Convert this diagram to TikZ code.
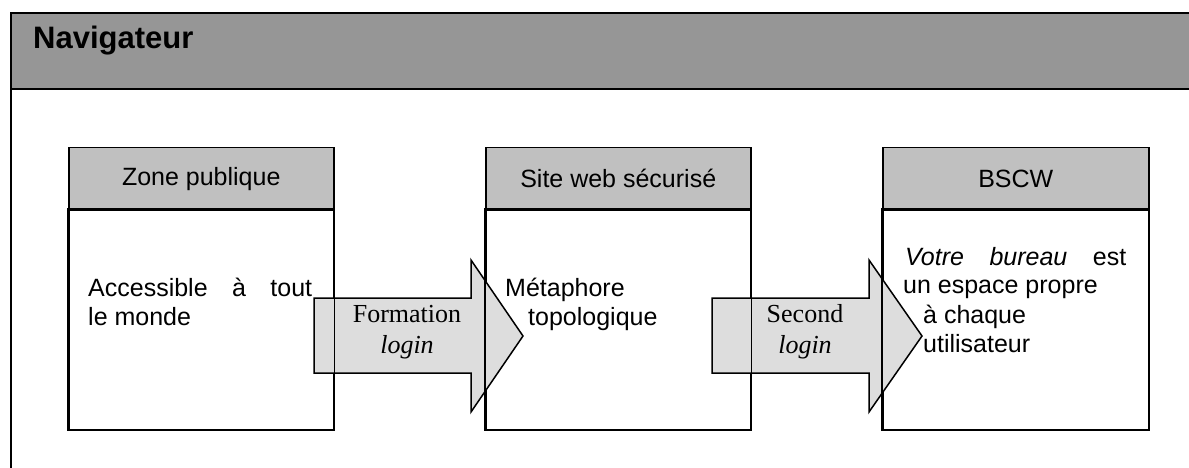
\documentclass[tikz,border=0pt]{standalone}
\usepackage{fontspec}
\setmainfont{Liberation Sans}
\newfontfamily\tnr{Liberation Serif}
\definecolor{bandgray}{HTML}{969696}
\definecolor{headgray}{HTML}{C0C0C0}
\definecolor{arrowgray}{HTML}{DDDDDD}
\tikzset{
  frameline/.style={line width=2.2pt, draw=black},
  boxline/.style={line width=1.5pt, draw=black},
  boxhead/.style={boxline, fill=headgray, rectangle, anchor=north west,
    minimum width=265pt, minimum height=62pt, inner sep=0pt,
    font=\fontsize{25}{29}\selectfont},
  boxbody/.style={boxline, fill=white, rectangle, anchor=north west,
    minimum width=265pt, minimum height=220pt, inner sep=0pt},
  bodytext/.style={anchor=base west, inner sep=0pt, font=\fontsize{25}{29}\selectfont},
  arrowlabel/.style={anchor=base, inner sep=0pt, font=\tnr\fontsize{26}{30}\selectfont},
  blockarrow/.style={line width=1.5pt, draw=black, fill=arrowgray, line join=miter},
}
\begin{document}
\begin{tikzpicture}[x=1pt, y=-1pt]
\useasboundingbox (0,0) rectangle (1189,468);
% outer frame with header band
\fill[bandgray] (11,13) rectangle (1189,89);
\draw[frameline] (1189,13) -- (11,13) -- (11,468);
\draw[frameline] (11,89) -- (1189,89);
\node[anchor=base west, inner sep=0pt, font=\bfseries\fontsize{31}{36}\selectfont] (nav) at (33,49) {Navigateur};
% boxes
\node[boxhead] (h1) at (68,147) {Zone publique};
\node[boxbody] (b1) at (68,209) {};
\node[boxhead] (h2) at (485,147) {Site web sécurisé};
\node[boxbody] (b2) at (485,209) {};
\node[boxhead, minimum width=266pt] (h3) at (882,147) {BSCW};
\node[boxbody, minimum width=266pt] (b3) at (882,209) {};
% block arrows
\draw[blockarrow] (314,298) -- (471,298) -- (471,260) -- (523,336) -- (471,412) -- (471,373) -- (314,373) -- cycle;
\draw[blockarrow] (712,298) -- (869,298) -- (869,260) -- (922,336) -- (869,412) -- (869,373) -- (712,373) -- cycle;
% box borders over the arrows
\draw[boxline] (b1.north west) rectangle (b1.south east);
\draw[boxline] (b2.north west) rectangle (b2.south east);
\draw[boxline] (b3.north west) rectangle (b3.south east);
% arrow labels
\node[arrowlabel] (a1t) at (407,322) {Formation};
\node[arrowlabel] (a1b) at (407,353) {\itshape login};
\node[arrowlabel] (a2t) at (805,322) {Second};
\node[arrowlabel] (a2b) at (805,353) {\itshape login};
% body texts
\node[bodytext] (t1a) at (88,296) {\makebox[224pt][s]{Accessible à tout}};
\node[bodytext] (t1b) at (88,325) {le monde};
\node[bodytext] (t2a) at (505,296) {Métaphore};
\node[bodytext] (t2b) at (528,325) {topologique};
\node[bodytext] (t3a) at (905,265) {\makebox[221pt][s]{\itshape Votre bureau \upshape est}};
\node[bodytext] (t3b) at (903,293) {un espace propre};
\node[bodytext] (t3c) at (923,323) {à chaque};
\node[bodytext] (t3d) at (923,352) {utilisateur};
\end{tikzpicture}
\end{document}
